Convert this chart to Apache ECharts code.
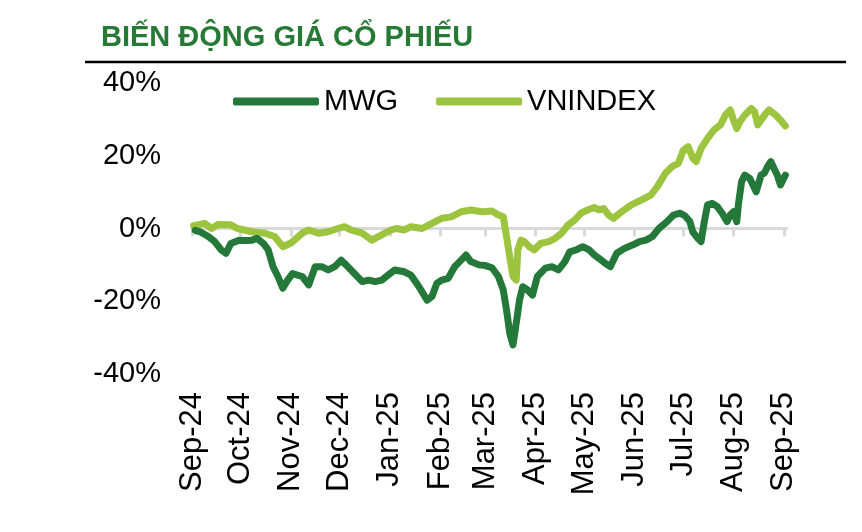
<!DOCTYPE html>
<html>
<head>
<meta charset="utf-8">
<script src="https://cdn.jsdelivr.net/npm/echarts@6/dist/echarts.min.js"></script>
<style>
html,body{margin:0;padding:0;background:#fff;}
#chart{width:862px;height:532px;}
</style>
</head>
<body>
<div id="chart"></div>
<script>
// ---- Data ----
const titleText = 'BIẾN ĐỘNG GIÁ CỔ PHIẾU';
const seriesNames = ['MWG', 'VNINDEX'];

const monthStarts = ['2024-09-01','2024-10-01','2024-11-01','2024-12-01','2025-01-01','2025-02-01','2025-03-01',
  '2025-04-01','2025-05-01','2025-06-01','2025-07-01','2025-08-01','2025-09-01'];
const monthLabels = ['Sep-24','Oct-24','Nov-24','Dec-24','Jan-25','Feb-25','Mar-25',
  'Apr-25','May-25','Jun-25','Jul-25','Aug-25','Sep-25'];
const yTicks = [-40, -20, 0, 20, 40];

const vniDates = ['2024-09-02','2024-09-09','2024-09-13','2024-09-17','2024-09-25','2024-09-29','2024-10-08','2024-10-16',
  '2024-10-22','2024-10-27','2024-11-01','2024-11-08','2024-11-12','2024-11-18','2024-11-24','2024-11-30','2024-12-04',
  '2024-12-08','2024-12-15','2024-12-21','2024-12-25','2024-12-29','2025-01-02','2025-01-05','2025-01-10','2025-01-14',
  '2025-01-21','2025-01-27','2025-02-02','2025-02-08','2025-02-14','2025-02-20','2025-02-27','2025-03-05','2025-03-09',
  '2025-03-12','2025-03-14','2025-03-16','2025-03-18','2025-03-20','2025-03-21','2025-03-23','2025-03-25','2025-03-28',
  '2025-03-31','2025-04-04','2025-04-09','2025-04-13','2025-04-17','2025-04-21','2025-04-25','2025-04-29','2025-05-03',
  '2025-05-07','2025-05-10','2025-05-13','2025-05-16','2025-05-19','2025-05-24','2025-05-30','2025-06-05','2025-06-11',
  '2025-06-15','2025-06-20','2025-06-24','2025-06-28','2025-07-01','2025-07-04','2025-07-07','2025-07-09','2025-07-12',
  '2025-07-16','2025-07-20','2025-07-24','2025-07-27','2025-07-30','2025-08-01','2025-08-03','2025-08-05','2025-08-08',
  '2025-08-12','2025-08-14','2025-08-16','2025-08-18','2025-08-21','2025-08-23','2025-08-27','2025-08-30','2025-09-02'];
const vniValues = [0.8,1.4,0.0,1.1,1.0,0.0,-0.9,-1.3,
  -2.2,-5.0,-4.0,-1.3,-0.4,-1.3,-0.9,0.0,0.5,
  -0.4,-1.3,-3.2,-2.2,-1.3,-0.4,0.0,-0.4,0.5,
  0.0,1.4,2.8,3.2,4.6,5.1,4.6,4.8,3.7,
  3.2,-2.2,-7.8,-13.2,-14.2,-5.9,-3.2,-3.6,-5.0,
  -5.9,-4.1,-3.6,-2.7,-1.3,1.0,2.3,4.2,5.1,
  5.8,5.1,5.5,3.7,2.8,4.6,6.5,7.8,9.2,
  11.5,15.2,17.0,17.9,21.5,22.5,19.3,18.4,22.0,
  24.8,27.1,28.5,31.2,32.6,29.8,27.5,29.4,31.2,
  33.0,32.1,28.5,29.8,31.7,32.6,31.2,29.8,28.2];

const mwgDates = ['2024-09-03','2024-09-06','2024-09-11','2024-09-15','2024-09-19','2024-09-22','2024-09-25','2024-09-30',
  '2024-10-04','2024-10-08','2024-10-11','2024-10-15','2024-10-18','2024-10-21','2024-10-24','2024-10-27','2024-10-30',
  '2024-11-02','2024-11-08','2024-11-12','2024-11-16','2024-11-20','2024-11-24','2024-11-28','2024-12-02','2024-12-05',
  '2024-12-10','2024-12-15','2024-12-19','2024-12-23','2024-12-27','2024-12-31','2025-01-04','2025-01-10','2025-01-14',
  '2025-01-19','2025-01-24','2025-01-27','2025-01-30','2025-02-02','2025-02-06','2025-02-10','2025-02-14','2025-02-17',
  '2025-02-20','2025-02-25','2025-03-01','2025-03-05','2025-03-09','2025-03-12','2025-03-14','2025-03-16','2025-03-18',
  '2025-03-20','2025-03-22','2025-03-24','2025-03-27','2025-03-30','2025-04-02','2025-04-07','2025-04-11','2025-04-15',
  '2025-04-19','2025-04-22','2025-04-26','2025-04-30','2025-05-04','2025-05-07','2025-05-10','2025-05-14','2025-05-17',
  '2025-05-21','2025-05-26','2025-05-31','2025-06-04','2025-06-08','2025-06-12','2025-06-16','2025-06-21','2025-06-25',
  '2025-06-29','2025-07-02','2025-07-05','2025-07-07','2025-07-10','2025-07-12','2025-07-14','2025-07-16','2025-07-19',
  '2025-07-22','2025-07-25','2025-07-28','2025-07-30','2025-08-01','2025-08-03','2025-08-04','2025-08-06','2025-08-08',
  '2025-08-11','2025-08-13','2025-08-15','2025-08-18','2025-08-20','2025-08-22','2025-08-24','2025-08-26','2025-08-28',
  '2025-08-30','2025-09-02'];
const mwgValues = [-0.5,-0.9,-2.2,-3.6,-5.9,-6.8,-4.1,-3.2,
  -3.3,-3.2,-2.7,-4.1,-5.9,-10.5,-13.2,-16.4,-14.2,
  -12.4,-13.2,-15.5,-10.5,-10.5,-11.4,-10.5,-8.7,-10.0,
  -12.3,-14.6,-14.2,-14.6,-14.2,-12.8,-11.4,-11.9,-12.8,
  -16.0,-19.7,-18.7,-15.1,-14.2,-13.7,-10.5,-8.7,-7.3,
  -9.1,-10.0,-10.2,-10.8,-13.2,-16.9,-22.4,-28.8,-32.0,
  -26.0,-19.7,-16.0,-16.9,-18.3,-13.2,-10.9,-10.5,-11.4,
  -9.1,-6.4,-5.9,-5.0,-5.9,-7.2,-8.2,-9.6,-10.5,
  -6.8,-5.4,-4.5,-3.6,-3.2,-2.2,0.0,1.9,3.7,
  4.2,3.5,2.0,-1.0,-2.7,-3.6,1.9,6.5,6.9,
  6.0,4.2,1.9,3.7,4.6,1.9,6.5,12.9,14.7,
  13.8,12.0,10.1,14.7,15.2,17.0,18.4,16.5,14.7,
  12.0,14.7];

// ---- helpers: dates -> day number on the axis ----
const DAY = 86400000;
function dayNum(s) { const p = s.split('-').map(Number); return Math.round(Date.UTC(p[0], p[1] - 1, p[2]) / DAY); }
const baseDay = dayNum(monthStarts[0]);
const toX = s => dayNum(s) - baseDay;
const tickX = monthStarts.map(toX);
const pairs = (ds, vs) => ds.map((d, i) => [toX(d), vs[i]]);

const FONT = '"Liberation Sans", Arial, sans-serif';
const chart = echarts.init(document.getElementById('chart'), null, { renderer: 'canvas' });
chart.setOption({
  animation: false,
  backgroundColor: '#ffffff',
  title: {
    text: titleText, left: 96, top: 18,
    textStyle: { fontFamily: FONT, fontWeight: 'bold', fontSize: 29, color: '#267a36' }
  },
  graphic: [{
    type: 'line', shape: { x1: 85, y1: 62, x2: 846, y2: 62 },
    style: { stroke: '#000', lineWidth: 2.5 }
  }],
  legend: {
    data: seriesNames, left: 228, top: 82, itemGap: 38, itemWidth: 86, itemHeight: 8,
    icon: 'roundRect',
    textStyle: { fontFamily: FONT, fontSize: 29, color: '#000' }
  },
  grid: { left: 192, top: 83, width: 595, height: 291, containLabel: false, outerBoundsMode: 'none' },
  xAxis: {
    type: 'value',
    min: 0, max: toX('2025-09-03'),
    axisLine: { show: true, onZero: true, lineStyle: { color: '#d9d9d9', width: 3 } },
    axisTick: { show: true, customValues: tickX, length: 8, lineStyle: { color: '#d9d9d9', width: 3 } },
    axisLabel: {
      customValues: tickX, rotate: 90, margin: 18,
      fontFamily: FONT, fontSize: 31, color: '#000',
      formatter: function (v) {
        let best = 0, bd = Infinity;
        tickX.forEach((t, i) => { const d = Math.abs(t - v); if (d < bd) { bd = d; best = i; } });
        return monthLabels[best];
      }
    },
    splitLine: { show: false }
  },
  yAxis: {
    type: 'value', min: yTicks[0], max: yTicks[yTicks.length - 1], interval: 20,
    axisLine: { show: false }, axisTick: { show: false }, splitLine: { show: false },
    axisLabel: { formatter: '{value}%', fontFamily: FONT, fontSize: 29, color: '#000', margin: 31 }
  },
  series: [
    {
      name: 'VNINDEX', type: 'line', data: pairs(vniDates, vniValues), showSymbol: false, symbol: 'none',
      lineStyle: { color: '#9cc43e', width: 7, cap: 'round', join: 'round' }, itemStyle: { color: '#9cc43e' }, z: 2
    },
    {
      name: 'MWG', type: 'line', data: pairs(mwgDates, mwgValues), showSymbol: false, symbol: 'none',
      lineStyle: { color: '#24793a', width: 7, cap: 'round', join: 'round' }, itemStyle: { color: '#24793a' }, z: 3
    }
  ]
});
</script>
</body>
</html>
